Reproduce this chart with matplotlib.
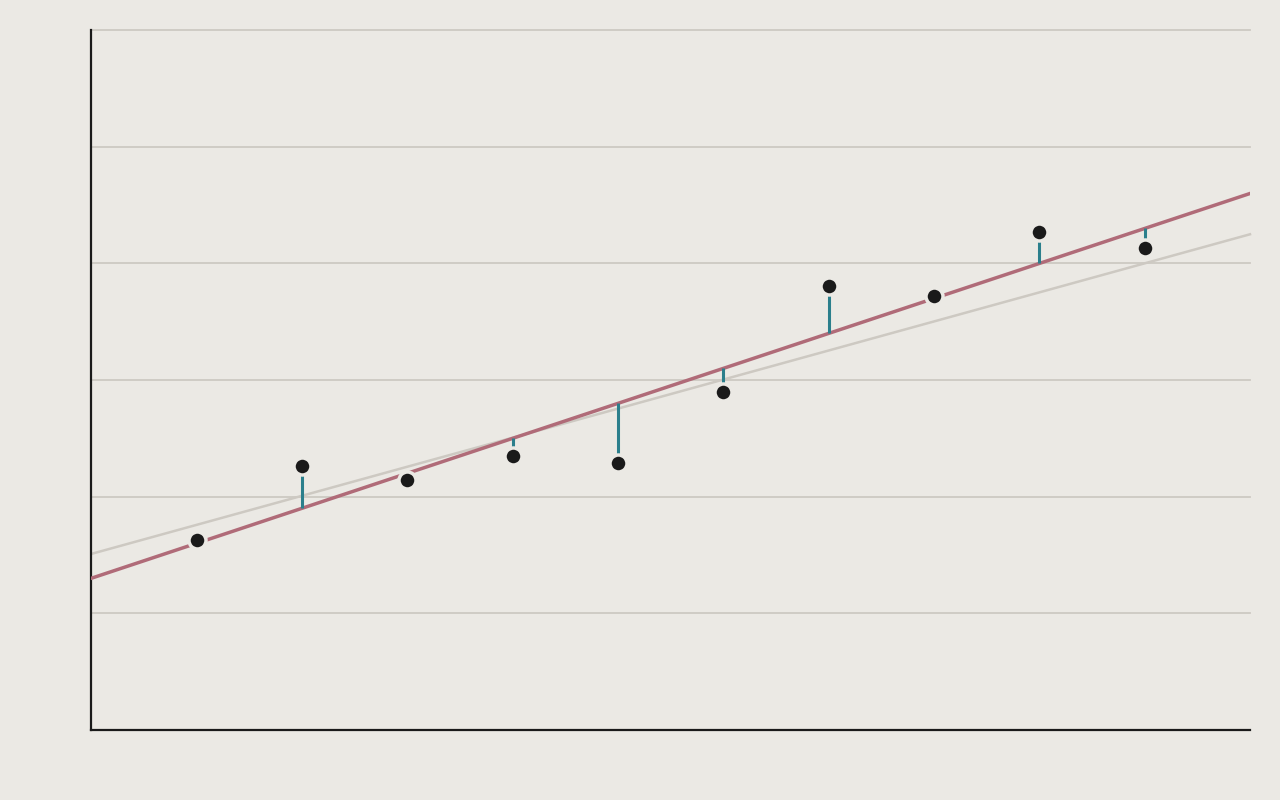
import numpy as np
import matplotlib
matplotlib.use("Agg")
import matplotlib.pyplot as plt

# Beobachtungen
x_werte = [1, 2, 3, 4, 5, 6, 7, 8, 9, 10]
y_werte = [1.63, 2.26, 2.14, 2.35, 2.29, 2.90, 3.81, 3.72, 4.27, 4.13]

# zweite (graue) Vergleichsgerade
vergleich_achsenabschnitt = 1.51
vergleich_steigung = 0.249

HINTERGRUND = "#ebe9e4"
ROT = "#b06b78"
TEAL = "#2b7f8c"
GRAU = "#cdc9c2"

x = np.array(x_werte)
y = np.array(y_werte)
steigung, achsenabschnitt = np.polyfit(x, y, 1)

fig = plt.figure(figsize=(12.8, 8), dpi=100, facecolor=HINTERGRUND)
ax = fig.add_axes([90.5 / 1280, 70 / 800, 1159.5 / 1280, 700 / 800])
ax.set_facecolor(HINTERGRUND)

ax.set_xlim(-0.01, 11)
ax.set_ylim(0, 6)
for yy in range(1, 7):
    ax.axhline(yy, color=GRAU, linewidth=1.3, zorder=1, clip_on=False)

xs = np.array([0, 11])
ax.plot(xs, vergleich_achsenabschnitt + vergleich_steigung * xs, color=GRAU,
        linewidth=1.8, zorder=2, clip_on=False)
ax.plot(xs, achsenabschnitt + steigung * xs, color=ROT, linewidth=2.5, zorder=3)

# Residuen
gefittet = achsenabschnitt + steigung * x
ax.vlines(x, y, gefittet, color=TEAL, linewidth=2.2, zorder=4)

ax.scatter(x, y, s=150, color="#1a1a1a", edgecolors=HINTERGRUND, linewidths=2.5, zorder=5)

for s in ["top", "right"]:
    ax.spines[s].set_visible(False)
for s in ["left", "bottom"]:
    ax.spines[s].set_color("#1a1a1a")
    ax.spines[s].set_linewidth(1.6)
ax.set_xticks([])
ax.set_yticks([])

fig.savefig("out.png", dpi=100, facecolor=HINTERGRUND)
